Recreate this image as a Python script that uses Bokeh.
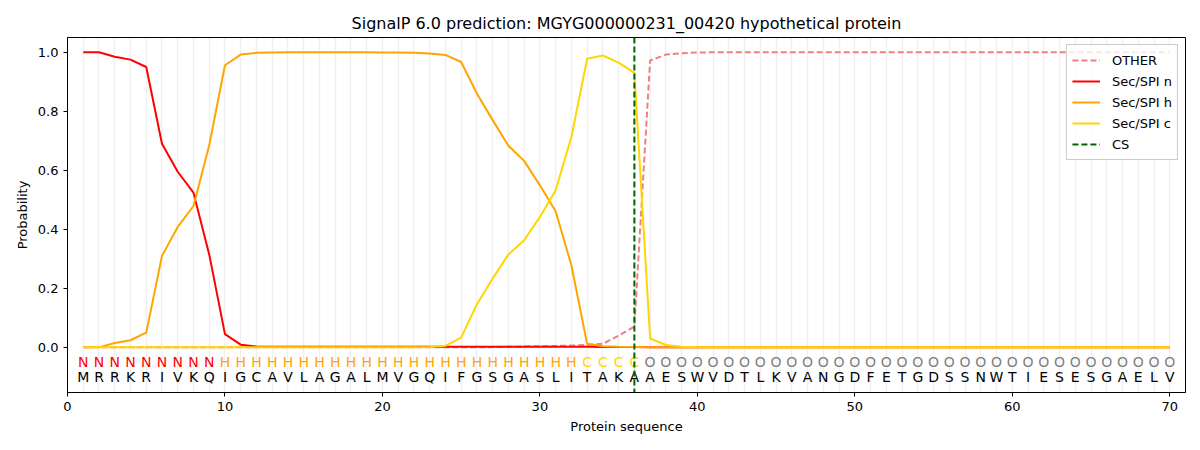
from bokeh.plotting import figure
from bokeh.models import FixedTicker, Legend, LegendItem, Span, CustomJSTickFormatter, ColumnDataSource
from bokeh.core.properties import value
from bokeh.embed import file_html
from bokeh.resources import INLINE

sequence = list("MRRKRIVKQIGCAVLAGALMVGQIFGSGASLITAKAAESWVDTLKVANGDFETGDSSNWTIESESGAELV")
labels = list("NNNNNNNNN" "HHHHHHHHHHHHHHHHHHHHHHH" "CCCC" "OOOOOOOOOOOOOOOOOOOOOOOOOOOOOOOOOO")
positions = list(range(1, 71))

sp_n = [1.0, 1.0, 0.985, 0.975, 0.95, 0.69, 0.595, 0.524, 0.315, 0.045,
        0.009, 0.003, 0.002, 0.002, 0.002, 0.002, 0.002, 0.002, 0.002, 0.002,
        0.002, 0.002, 0.002, 0.002, 0.002, 0.002, 0.002, 0.002, 0.002, 0.002,
        0.002, 0.002, 0.002, 0.001, 0.001, 0.001, 0.0, 0.0, 0.0, 0.0,
        0.0, 0.0, 0.0, 0.0, 0.0, 0.0, 0.0, 0.0, 0.0, 0.0,
        0.0, 0.0, 0.0, 0.0, 0.0, 0.0, 0.0, 0.0, 0.0, 0.0,
        0.0, 0.0, 0.0, 0.0, 0.0, 0.0, 0.0, 0.0, 0.0, 0.0]
sp_h = [0.0, 0.0, 0.015, 0.024, 0.05, 0.31, 0.408, 0.479, 0.685, 0.956,
        0.992, 0.998, 0.999, 1.0, 1.0, 1.0, 1.0, 1.0, 1.0, 0.999,
        0.999, 0.998, 0.996, 0.991, 0.967, 0.86, 0.77, 0.683, 0.632, 0.549,
        0.461, 0.278, 0.012, 0.004, 0.002, 0.001, 0.0, 0.0, 0.0, 0.0,
        0.0, 0.0, 0.0, 0.0, 0.0, 0.0, 0.0, 0.0, 0.0, 0.0,
        0.0, 0.0, 0.0, 0.0, 0.0, 0.0, 0.0, 0.0, 0.0, 0.0,
        0.0, 0.0, 0.0, 0.0, 0.0, 0.0, 0.0, 0.0, 0.0, 0.0]
sp_c = [0.0, 0.0, 0.0, 0.0, 0.0, 0.0, 0.0, 0.0, 0.0, 0.0,
        0.0, 0.0, 0.0, 0.0, 0.0, 0.0, 0.0, 0.0, 0.0, 0.0,
        0.0, 0.0, 0.001, 0.005, 0.033, 0.146, 0.233, 0.315, 0.363, 0.442,
        0.532, 0.713, 0.978, 0.989, 0.965, 0.93, 0.03, 0.008, 0.002, 0.0,
        0.0, 0.0, 0.0, 0.0, 0.0, 0.0, 0.0, 0.0, 0.0, 0.0,
        0.0, 0.0, 0.0, 0.0, 0.0, 0.0, 0.0, 0.0, 0.0, 0.0,
        0.0, 0.0, 0.0, 0.0, 0.0, 0.0, 0.0, 0.0, 0.0, 0.0]
other = [0.0, 0.0, 0.0, 0.0, 0.0, 0.0, 0.0, 0.0, 0.0, 0.0,
         0.0, 0.0, 0.0, 0.0, 0.0, 0.0, 0.0, 0.0, 0.0, 0.0,
         0.0, 0.0, 0.0, 0.0, 0.0, 0.0, 0.001, 0.002, 0.003, 0.004,
         0.005, 0.006, 0.008, 0.012, 0.04, 0.07, 0.972, 0.992, 0.997, 0.999,
         1.0, 1.0, 1.0, 1.0, 1.0, 1.0, 1.0, 1.0, 1.0, 1.0,
         1.0, 1.0, 1.0, 1.0, 1.0, 1.0, 1.0, 1.0, 1.0, 1.0,
         1.0, 1.0, 1.0, 1.0, 1.0, 1.0, 1.0, 1.0, 1.0, 1.0]
cs_pos = 36

label_colors = {"N": "#ff0000", "H": "#ffa500", "C": "#ffd700", "O": "#808080"}

p = figure(width=1200, height=450, x_range=(0, 71), y_range=(-0.153, 1.05),
           output_backend="svg", toolbar_location=None,
           title="SignalP 6.0 prediction: MGYG000000231_00420 hypothetical protein",
           min_border_left=67, min_border_right=15, min_border_top=37, min_border_bottom=58)

p.title.text_font = "DejaVu Sans"
p.title.text_font_size = "16px"
p.title.text_font_style = "normal"
p.title.align = "center"
p.title.text_color = "#000000"

p.xgrid.ticker = FixedTicker(ticks=positions)
p.xgrid.grid_line_color = "#000000"
p.xgrid.grid_line_alpha = 0.06
p.xgrid.grid_line_width = 1.5
p.ygrid.grid_line_color = None

p.xaxis.ticker = FixedTicker(ticks=[0, 10, 20, 30, 40, 50, 60, 70])
p.yaxis.ticker = FixedTicker(ticks=[0.0, 0.2, 0.4, 0.6, 0.8, 1.0])
p.yaxis.formatter = CustomJSTickFormatter(code="return tick.toFixed(1);")
for ax in (p.xaxis, p.yaxis):
    ax.major_label_text_font = "DejaVu Sans"
    ax.major_label_text_font_size = "13px"
    ax.major_label_text_color = "#000000"
    ax.axis_label_text_font = "DejaVu Sans"
    ax.axis_label_text_font_size = "13px"
    ax.axis_label_text_font_style = "normal"
    ax.axis_label_text_color = "#000000"
    ax.axis_line_color = "#000000"
    ax.major_tick_line_color = "#000000"
    ax.minor_tick_line_color = None
    ax.major_tick_in = 0
    ax.major_tick_out = 4
p.xaxis.axis_label = "Protein sequence"
p.yaxis.axis_label = "Probability"
p.outline_line_color = "#000000"
p.outline_line_alpha = 1.0

src = ColumnDataSource(dict(x=positions, other=other, n=sp_n, h=sp_h, c=sp_c))
r_other = p.line("x", "other", source=src, line_color="#f08080", line_width=2, line_dash="6 3")
r_n = p.line("x", "n", source=src, line_color="#ff0000", line_width=2)
r_h = p.line("x", "h", source=src, line_color="#ffa500", line_width=2)
r_c = p.line("x", "c", source=src, line_color="#ffd700", line_width=2)

cs = Span(location=cs_pos, dimension="height", line_color="#006400", line_width=2, line_dash="6 3")
p.add_layout(cs)

lab_src = ColumnDataSource(dict(x=positions, y=[-0.048] * 70, t=labels,
                                col=[label_colors[l] for l in labels]))
p.text("x", "y", text="t", source=lab_src, text_color="col", text_align="center",
       text_baseline="middle", text_font=value("DejaVu Sans"), text_font_size="14px")
seq_src = ColumnDataSource(dict(x=positions, y=[-0.102] * 70, t=sequence))
p.text("x", "y", text="t", source=seq_src, text_color="#000000", text_align="center",
       text_baseline="middle", text_font=value("DejaVu Sans"), text_font_size="14px")

# legend-only renderer for the CS entry (drawn outside the visible range)
cs_leg = p.line([-10, -9], [0.5, 0.5], line_color="#006400", line_width=2, line_dash="6 3")

legend = Legend(items=[
    LegendItem(label="OTHER", renderers=[r_other]),
    LegendItem(label="Sec/SPI n", renderers=[r_n]),
    LegendItem(label="Sec/SPI h", renderers=[r_h]),
    LegendItem(label="Sec/SPI c", renderers=[r_c]),
    LegendItem(label="CS", renderers=[cs_leg]),
], location="top_right")
p.add_layout(legend)

legend.label_text_font = "DejaVu Sans"
legend.label_text_font_size = "13px"
legend.label_text_color = "#000000"
legend.border_line_color = "#cccccc"
legend.border_line_alpha = 1.0
legend.background_fill_alpha = 0.8
legend.glyph_width = 28
legend.glyph_height = 20
legend.label_height = 20
legend.spacing = 1
legend.padding = 5
legend.margin = 7
legend.label_standoff = 12

open("out.html", "w").write(file_html(p, INLINE))
